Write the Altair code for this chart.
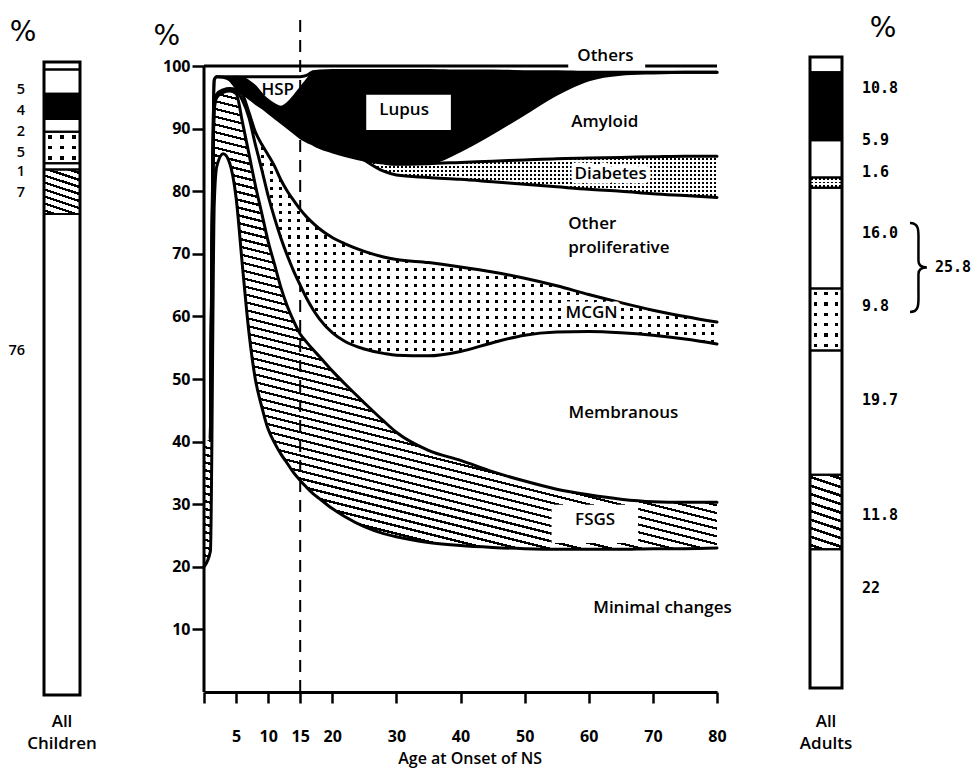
import math
import altair as alt
import pandas as pd

# ---------------- data ----------------
ages = [0, 1, 1.6, 2, 3, 4, 5, 6, 7, 8, 9, 10, 11, 12, 13, 14, 15, 16, 17, 18,
        20, 22, 25, 28, 30, 35, 40, 45, 50, 55, 60, 65, 70, 75, 80]

# cumulative upper edge of each band (%), bottom to top
minimal_changes_top = [20, 22.5, 78, 84, 86, 84.5, 79, 68, 57.5, 50, 45.6, 42, 39.8, 38, 36.5, 35, 33.8, 32.7,
                       31.7, 30.9, 29.3, 28, 26.4, 25.3, 24.8, 23.9, 23.4, 23.1, 22.9, 22.8, 22.8, 22.8, 22.9,
                       22.9, 23.0]
fsgs_top = [40, 40.5, 93, 95, 95.8, 96, 95.6, 91, 86, 81, 76.5, 72, 68.3, 64.6, 61.6, 59.2, 57.2, 55.9, 54.7,
            53.6, 51.3, 49.2, 46.2, 43.3, 41.5, 38.6, 37, 35.2, 33.7, 32.4, 31.5, 30.8, 30.4, 30.3, 30.3]
membranous_top = [40, 40.5, 94, 95.4, 96.1, 96.3, 96, 94.5, 91.8, 87.5, 83.5, 79.3, 75.7, 72.5, 69.7, 67.2, 65,
                  62.9, 61.1, 59.6, 57.4, 56, 54.8, 54.1, 53.8, 53.7, 54.4, 55.8, 57, 57.5, 57.6, 57.4, 57, 56.4,
                  55.6]
mcgn_top = [40, 40.5, 94.1, 95.5, 96.2, 96.4, 96.3, 95.5, 92.6, 89.5, 87.5, 85.8, 84, 81.8, 80, 78.5, 77.1, 75.9,
            74.9, 74, 72.6, 71.6, 70.4, 69.5, 69.1, 68.6, 67.9, 67.1, 66.1, 64.9, 63.5, 62.2, 61, 60, 59.1]
other_proliferative_top = [40, 40.5, 97.8, 98.3, 98.2, 97.8, 96.6, 95.7, 94.9, 94.1, 93.4, 92.6, 91.8, 91, 90.2,
                           89.4, 88.6, 88, 87.5, 87, 86.3, 85.7, 85, 83.2, 82.6, 82.2, 81.9, 81.5, 81.1, 80.7,
                           80.3, 80, 79.6, 79.3, 79]
diabetes_top = [40, 40.5, 97.8, 98.3, 98.2, 97.8, 96.6, 95.7, 94.9, 94.1, 93.4, 92.6, 91.8, 91, 90.2, 89.4, 88.6,
                88, 87.5, 87, 86.3, 85.7, 85, 84.5, 84.3, 84.4, 84.6, 84.8, 85, 85.2, 85.3, 85.4, 85.5, 85.6, 85.6]
amyloid_top = [40, 40.5, 97.8, 98.3, 98.2, 97.8, 96.6, 95.7, 94.9, 94.1, 93.4, 92.6, 91.8, 91, 90.2, 89.4, 88.6,
               88, 87.5, 87, 86.3, 85.7, 85, 84.6, 84.4, 84.5, 86.5, 89.3, 92.4, 95.5, 97.8, 98.7, 98.9, 99, 99]
lupus_top = [40, 40.5, 97.8, 98.3, 98.3, 98.3, 98.3, 98.2, 97.6, 96.8, 95.6, 94.6, 93.9, 93.5, 94.1, 95.2, 96.5,
             97.8, 99.1, 99.2, 99.3, 99.3, 99.3, 99.3, 99.3, 99.3, 99.2, 99.2, 99.1, 99.1, 99, 99, 99, 99, 99]
hsp_top = [40, 40.5, 97.8, 98.3, 98.3, 98.3, 98.3, 98.3, 98.3, 98.3, 98.3, 98.3, 98.3, 98.3, 98.3, 98.3, 98.3,
           98.5, 99.1, 99.2, 99.3, 99.3, 99.3, 99.3, 99.3, 99.3, 99.2, 99.2, 99.1, 99.1, 99, 99, 99, 99, 99]

divider_age = 15

main_label_text = ["HSP", "Lupus", "Amyloid", "Other", "proliferative", "Membranous", "FSGS",
                   "Minimal changes", "Others"]
main_label_age = [11.5, 31.2, 62.5, 56.8, 56.8, 65.4, 61, 71.5, 62.6]
main_label_value = [96.2, 92.9, 91, 74.8, 71.0, 44.5, 27.4, 13.4, 101.6]
main_label_align = ["center", "center", "center", "left", "left", "center", "center", "center", "center"]
halo_label_text = ["Diabetes", "MCGN"]
halo_label_age = [63.4, 60.45]
halo_label_value = [82.7, 60.5]
box_age_from = [56.8, 25.3, 54.2]
box_age_to = [68.8, 38.5, 67.7]
box_value_from = [99.3, 89.8, 23.8]
box_value_to = [101.2, 95.4, 29.9]
x_title = "Age at Onset of NS"
x_title_at = [41.5, -11.55]

children_categories = ["Minimal changes", "FSGS", "Membranous", "MCGN", "Other proliferative",
                       "Lupus", "HSP", "Others"]
children_values = [76, 7, 1, 5, 2, 4, 3.8, 1.2]
children_labels = ["5", "4", "2", "5", "1", "7", "76"]
children_label_at = [95.6, 92.3, 89.0, 85.7, 82.6, 79.3, 54.3]

adult_categories = ["Minimal changes", "FSGS", "Membranous", "MCGN", "Other proliferative",
                    "Diabetes", "Amyloid", "Lupus", "Others"]
adult_values = [22, 11.8, 19.7, 9.8, 16.0, 1.6, 5.9, 10.8, 2.4]
adult_labels = ["10.8", "5.9", "1.6", "16.0", "9.8", "19.7", "11.8", "22"]
adult_label_at = [95.1, 86.8, 81.7, 72.1, 60.5, 45.6, 27.4, 15.8]
bracket_label = "25.8"
bracket_from = 59.6
bracket_to = 73.7

# ---------------- style ----------------
FONT = "Open Sans"
MONO = "DejaVu Sans Mono"
H_ALL = 760
MAIN_W = 513
K_MAIN, K_LEFT, K_RIGHT = 6.26, 6.33, 6.31
MAIN_DOM = [-12.14, 109.27]
LEFT_DOM = [-11.53, 108.53]
RIGHT_DOM = [-12.68, 107.77]
CLEAR = "rgba(255,255,255,0)"


def stop(o, c):
    return alt.GradientStop(offset=round(min(max(o, 0), 1), 5), color=c)


def stripes(n, frac, on, off, x1, y1, x2, y2):
    stops = [stop(0, off)]
    for i in range(n):
        b = (i + (1 - frac) / 2) / n
        c = (i + (1 + frac) / 2) / n
        stops += [stop(b, off), stop(b, on), stop(c, on), stop(c, off)]
    stops.append(stop(1, off))
    return alt.LinearGradient(gradient="linear", stops=stops, x1=x1, y1=y1, x2=x2, y2=y2)


def hatch(W, H, slope, period, frac):
    gx, gy = -slope * W / H, 1.0
    proj = [0.0, gx, gy, gx + gy]
    m, M = min(proj), max(proj)
    g2 = gx * gx + gy * gy
    grad = math.hypot(gx / W, gy / H) / (M - m)
    n = max(1, round(1 / grad / period))
    return stripes(n, frac, "black", "white", gx * m / g2, gy * m / g2, gx * M / g2, gy * M / g2)


def dots(W, H, px, py, dw, dh):
    cols = stripes(max(1, round(W / px)), dw / px, "black", "white", 0, 0, 1, 0)
    rows = stripes(max(1, round(H / py)), dh / py, CLEAR, "white", 0, 0, 0, 1)
    return cols, rows


# ---------------- main panel ----------------
band_df = pd.DataFrame({
    "age": ages, "minimal": minimal_changes_top, "fsgs": fsgs_top, "membranous": membranous_top,
    "mcgn": mcgn_top, "otherprolif": other_proliferative_top, "diabetes": diabetes_top,
    "amyloid": amyloid_top, "lupus": lupus_top, "hsp": hsp_top,
})
base = alt.Chart(band_df)
xs = alt.Scale(domain=[0, 80], nice=False, zero=False)
ys = alt.Scale(domain=MAIN_DOM, nice=False, zero=False)

x_axis = alt.Axis(values=[0, 5, 10, 15, 20, 30, 40, 50, 60, 70, 80],
                  labelExpr="datum.value == 0 ? '' : datum.label", offset=-76,
                  tickSize=11, tickWidth=2.5, tickColor="black", domainColor="black", domainWidth=3,
                  labelFont=FONT, labelFontSize=16, labelFontWeight="bold", labelColor="black",
                  labelPadding=25, labelFlush=False, labelOverlap=False, grid=False)
y_axis = alt.Axis(values=[10, 20, 30, 40, 50, 60, 70, 80, 90, 100], domain=False,
                  tickSize=12, tickWidth=2.5, tickColor="black", labelFont=FONT, labelFontSize=16,
                  labelFontWeight="bold", labelColor="black", labelPadding=2, grid=False)


def mx(field="age"):
    return alt.X(f"{field}:Q", scale=xs, axis=x_axis, title="")


def my(field):
    return alt.Y(f"{field}:Q", scale=ys, axis=y_axis, title="")


def dx_(v):
    return alt.X(datum=v, scale=xs, axis=x_axis, title="")


def dy_(v):
    return alt.Y(datum=v, scale=ys, axis=y_axis, title="")


def bbox_h(lo, hi):
    return (max(band_df[hi]) - min(band_df[lo])) * K_MAIN


dashed = alt.Chart(pd.DataFrame({"age": [divider_age]})).mark_rule(
    color="black", strokeWidth=2, strokeDash=[12, 8]).encode(
    x=mx(), y=dy_(0), y2=alt.Y2(datum=107.5))

fsgs_area = base.mark_area(interpolate="monotone", opacity=1,
                           fill=hatch(MAIN_W, bbox_h("minimal", "fsgs"), 0.25, 7.5, 0.3)).encode(
    x=mx(), y=my("minimal"), y2=alt.Y2("fsgs:Q"))

mc_cols, mc_rows = dots(MAIN_W, bbox_h("membranous", "mcgn"), 9, 8, 3, 3)
mcgn_a = base.mark_area(interpolate="monotone", opacity=1, fill=mc_cols).encode(
    x=mx(), y=my("membranous"), y2="mcgn:Q")
mcgn_b = base.mark_area(interpolate="monotone", opacity=1, fill=mc_rows).encode(
    x=mx(), y=my("membranous"), y2="mcgn:Q")

db_cols, db_rows = dots(MAIN_W, bbox_h("otherprolif", "diabetes"), 4, 4, 2.0, 2.0)
diab_a = base.mark_area(interpolate="monotone", opacity=1, fill=db_cols).encode(
    x=mx(), y=my("otherprolif"), y2="diabetes:Q")
diab_b = base.mark_area(interpolate="monotone", opacity=1, fill=db_rows).encode(
    x=mx(), y=my("otherprolif"), y2="diabetes:Q")

lupus_area = base.mark_area(interpolate="monotone", opacity=1, fill="black").encode(
    x=mx(), y=my("amyloid"), y2="lupus:Q")

top_rule = alt.Chart(pd.DataFrame({"a": [0]})).mark_rule(color="black", strokeWidth=3).encode(
    x=dx_(0), x2=alt.X2(datum=80), y=dy_(100))
yaxis_rule = alt.Chart(pd.DataFrame({"a": [0]})).mark_rule(color="black", strokeWidth=3).encode(
    x=dx_(0), y=dy_(0), y2=alt.Y2(datum=100))

boxes = alt.Chart(pd.DataFrame({"a0": box_age_from, "a1": box_age_to,
                                "v0": box_value_from, "v1": box_value_to})).mark_rect(
    fill="white", opacity=1).encode(x=mx("a0"), x2="a1:Q", y=my("v0"), y2="v1:Q")


def boundary(field, lo=0, hi=80, width=3):
    return base.transform_filter(f"datum.age >= {lo} && datum.age <= {hi}").mark_line(
        interpolate="monotone", color="black", strokeWidth=width, strokeJoin="round",
        strokeCap="round").encode(x=mx(), y=my(field))


lines = [
    boundary("minimal"), boundary("fsgs", 1), boundary("membranous", 1), boundary("mcgn", 1),
    boundary("otherprolif", 25), boundary("diabetes", 25), boundary("amyloid", 1),
    boundary("lupus", 5, 17, 2), boundary("hsp", 1),
]

lab_df = pd.DataFrame({"text": main_label_text, "age": main_label_age, "value": main_label_value,
                       "align": main_label_align})
lab_center = alt.Chart(lab_df).transform_filter("datum.align == 'center'").mark_text(
    font=FONT, fontSize=17, fontWeight=600, color="black", align="center", baseline="middle").encode(
    x=mx(), y=my("value"), text="text:N")
lab_left = alt.Chart(lab_df).transform_filter("datum.align == 'left'").mark_text(
    font=FONT, fontSize=17, fontWeight=600, color="black", align="left", baseline="middle").encode(
    x=mx(), y=my("value"), text="text:N")
halo_df = pd.DataFrame({"text": halo_label_text, "age": halo_label_age, "value": halo_label_value})
halo_bg = alt.Chart(halo_df).mark_text(
    font=FONT, fontSize=17, fontWeight=600, color="white", stroke="white", strokeWidth=9,
    strokeJoin="round", align="center", baseline="middle").encode(x=mx(), y=my("value"), text="text:N")
halo_fg = alt.Chart(halo_df).mark_text(
    font=FONT, fontSize=17, fontWeight=600, color="black", align="center", baseline="middle").encode(
    x=mx(), y=my("value"), text="text:N")
pct_main = alt.Chart(pd.DataFrame({"t": ["%"]})).mark_text(
    font="DejaVu Sans", fontSize=28, color="black", align="center", baseline="middle").encode(
    x=dx_(-5.8), y=dy_(104.6), text="t:N")
title_text = alt.Chart(pd.DataFrame({"t": [x_title]})).mark_text(
    font=FONT, fontSize=16, fontWeight=600, color="black", align="center", baseline="alphabetic").encode(
    x=dx_(x_title_at[0]), y=dy_(x_title_at[1]), text="t:N")

main = alt.layer(
    fsgs_area, dashed, mcgn_a, mcgn_b, diab_a, diab_b, lupus_area, top_rule, yaxis_rule, boxes,
    *lines, lab_center, lab_left, halo_bg, halo_fg, pct_main, title_text,
).properties(width=MAIN_W, height=H_ALL)


# ---------------- side bars ----------------
def bar_panel(name, cats, vals, k, dom, size, labels, label_at, label_dx, label_align,
              label_font, label_size, label_weight, hatch_p, dot_p, speck_p, pct_dx, pct_at, foot_at):
    lo, hi, run = [], [], 0.0
    for v in vals:
        lo.append(run)
        run += v
        hi.append(run)
    df = pd.DataFrame({"bar": name, "cat": cats, "lo": lo, "hi": hi})
    bx = alt.X("bar:N", axis=None, scale=alt.Scale(paddingInner=0, paddingOuter=0))
    ysc = alt.Scale(domain=dom, nice=False, zero=False)
    yb = alt.Y("lo:Q", scale=ysc, axis=None)
    cb = alt.Chart(df)
    layers = [cb.mark_bar(size=size, fill="white", opacity=1).encode(x=bx, y=yb, y2="hi:Q")]
    for c, v in zip(cats, vals):
        seg = cb.transform_filter(alt.datum.cat == c)
        h = v * k
        if c == "Lupus":
            layers.append(seg.mark_bar(size=size, fill="black", opacity=1).encode(x=bx, y=yb, y2="hi:Q"))
        elif c == "FSGS":
            layers.append(seg.mark_bar(size=size, opacity=1, fill=hatch(size, h, *hatch_p)).encode(
                x=bx, y=yb, y2="hi:Q"))
        elif c in ("MCGN", "Diabetes"):
            p = dot_p if c == "MCGN" else speck_p
            ca, rb = dots(size, h, *p)
            layers.append(seg.mark_bar(size=size, opacity=1, fill=ca).encode(x=bx, y=yb, y2="hi:Q"))
            layers.append(seg.mark_bar(size=size, opacity=1, fill=rb).encode(x=bx, y=yb, y2="hi:Q"))
    layers.append(cb.mark_bar(size=size, fillOpacity=0, stroke="black", strokeWidth=2).encode(
        x=bx, y=yb, y2="hi:Q"))
    layers.append(cb.transform_aggregate(lo="min(lo)", hi="max(hi)", groupby=["bar"]).mark_bar(
        size=size, fillOpacity=0, stroke="black", strokeWidth=3).encode(x=bx, y=yb, y2="hi:Q"))
    ldf = pd.DataFrame({"bar": name, "text": labels, "value": label_at})
    layers.append(alt.Chart(ldf).mark_text(
        font=label_font, fontSize=label_size, fontWeight=label_weight, color="black", align=label_align,
        baseline="middle", dx=label_dx).encode(
        x=bx, y=alt.Y("value:Q", scale=ysc, axis=None), text="text:N"))
    hdf = pd.DataFrame({"bar": [name], "text": ["%"], "value": [pct_at]})
    layers.append(alt.Chart(hdf).mark_text(
        font="DejaVu Sans", fontSize=28, color="black", align="center", baseline="middle",
        dx=pct_dx).encode(x=bx, y=alt.Y("value:Q", scale=ysc, axis=None), text="text:N"))
    words = name.split(" ", 1)
    fdf = pd.DataFrame({"bar": name, "text": words, "value": foot_at})
    layers.append(alt.Chart(fdf).mark_text(
        font=FONT, fontSize=17, fontWeight=600, color="black", align="center", baseline="middle").encode(
        x=bx, y=alt.Y("value:Q", scale=ysc, axis=None), text="text:N"))
    return layers, bx, ysc


left_layers, _, _ = bar_panel(
    "All Children", children_categories, children_values, K_LEFT, LEFT_DOM, 36,
    children_labels, children_label_at, -37, "right", FONT, 14.5, 600,
    (0.33, 6.5, 0.35), (12, 10, 3.2, 3.2), (4, 4, 1.6, 1.6), -39, 104.6, [-4.27, -7.74])
left = alt.layer(*left_layers).properties(width=108, height=H_ALL)

right_layers, rbx, rys = bar_panel(
    "All Adults", adult_categories, adult_values, K_RIGHT, RIGHT_DOM, 32,
    adult_labels, adult_label_at, 36, "left", MONO, 15, "bold",
    (0.33, 8, 0.32), (10.7, 10, 3.2, 3.2), (4, 3.3, 2, 1.6), 57, 104.5, [-5.39, -8.87])
bk_mid = (bracket_from + bracket_to) / 2
bk_px = (bracket_to - bracket_from) * K_RIGHT
brace = "M0,-1 C0.22,-1 0.19,-0.8 0.19,-0.55 L0.19,-0.15 C0.19,-0.04 0.26,0 0.38,0 " \
        "C0.26,0 0.19,0.04 0.19,0.15 L0.19,0.55 C0.19,0.8 0.22,1 0,1"
bdf = pd.DataFrame({"bar": ["All Adults"], "value": [bk_mid], "text": [bracket_label]})
bracket = alt.Chart(bdf).mark_point(
    shape=brace, size=bk_px * bk_px, filled=False, stroke="black", strokeWidth=2.5, opacity=1,
    xOffset=84).encode(x=rbx, y=alt.Y("value:Q", scale=rys, axis=None))
bracket_text = alt.Chart(bdf).mark_text(
    font=MONO, fontSize=15, fontWeight="bold", color="black", align="left", baseline="middle",
    dx=109).encode(x=rbx, y=alt.Y("value:Q", scale=rys, axis=None), text="text:N")
right = alt.layer(*right_layers, bracket, bracket_text).properties(width=42, height=H_ALL)

chart = alt.hconcat(left, main, right, spacing=88, bounds="flush").properties(
    padding=0).configure_view(strokeWidth=0)

chart.save("out.html", embed_options={"renderer": "svg", "actions": False})
